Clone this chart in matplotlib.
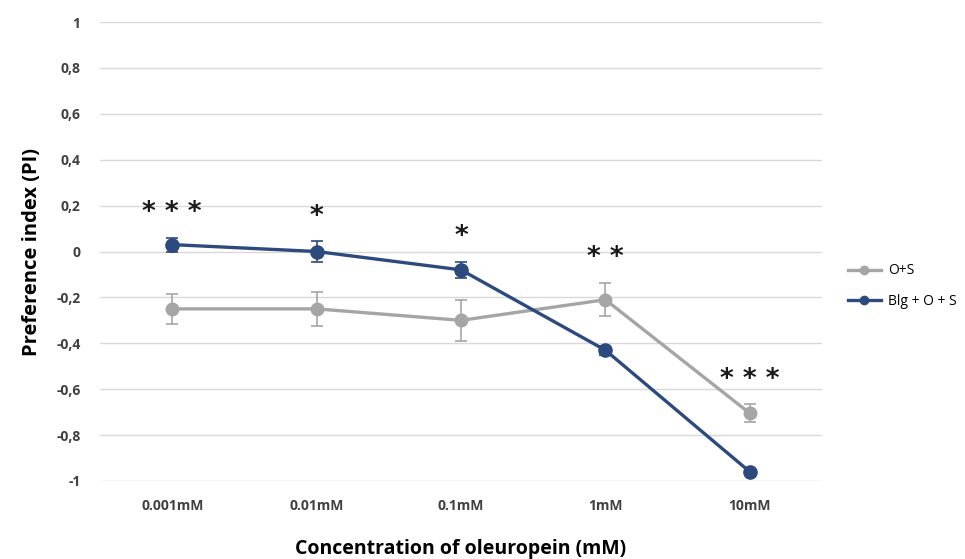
import numpy as np
import matplotlib
matplotlib.use("Agg")
import matplotlib.pyplot as plt
from matplotlib.lines import Line2D

plt.rcParams["font.family"] = ["Open Sans", "DejaVu Sans"]

concentrations = ["0.001mM", "0.01mM", "0.1mM", "1mM", "10mM"]
os_mean = [-0.25, -0.25, -0.30, -0.21, -0.705]
os_err = [0.066, 0.075, 0.088, 0.073, 0.04]
blg_mean = [0.03, 0.0, -0.08, -0.43, -0.96]
blg_err = [0.03, 0.045, 0.035, 0.02, 0.01]
stars = ["***", "*", "*", "**", "***"]

yticks = [-1, -0.8, -0.6, -0.4, -0.2, 0, 0.2, 0.4, 0.6, 0.8, 1]
ytick_labels = ["-1", "-0,8", "-0,6", "-0,4", "-0,2", "0", "0,2", "0,4", "0,6", "0,8", "1"]

grey = "#a5a5a5"
navy = "#2c4a7e"

fig = plt.figure(figsize=(9.65, 5.59), dpi=100)
ax = fig.add_axes([100 / 965, 1 - 481 / 559, 722 / 965, 459 / 559])

x = np.arange(len(concentrations))

ax.errorbar(x, os_mean, yerr=os_err, color=grey, lw=2.4, marker="o", ms=9,
            ecolor=grey, elinewidth=1.2, capsize=4, capthick=1.2, zorder=3)
ax.errorbar(x, blg_mean, yerr=blg_err, color=navy, lw=2.4, marker="o", ms=9.5,
            ecolor=navy, elinewidth=1.2, capsize=4, capthick=1.2, zorder=4)

# significance stars above the highest error bar
for i, s in enumerate(stars):
    top = max(os_mean[i] + os_err[i], blg_mean[i] + blg_err[i])
    ax.text(x[i], top + 0.05, " ".join(s), ha="center", va="bottom", fontsize=19,
            fontweight="bold", color="#1a1a1a", family="DejaVu Sans")

ax.set_xlim(-0.5, len(concentrations) - 0.5)
ax.set_ylim(-1, 1)
ax.set_yticks(yticks)
ax.set_yticklabels(ytick_labels, fontsize=10, fontweight="bold", color="#404040")
ax.set_xticks(x)
ax.set_xticklabels(concentrations, fontsize=10, fontweight="bold", color="#404040")
ax.tick_params(axis="both", length=0)
ax.tick_params(axis="y", pad=14)
ax.tick_params(axis="x", pad=13)
ax.grid(axis="y", color="#d9d9d9", lw=1)
ax.set_axisbelow(True)
for sp in ax.spines.values():
    sp.set_visible(False)

ax.set_ylabel("Preference index (PI)", fontsize=14.5, fontweight="bold", labelpad=10)
ax.set_xlabel("Concentration of oleuropein (mM)", fontsize=14, fontweight="bold", labelpad=19)

handles = [
    Line2D([], [], color=grey, lw=2.4, marker="o", ms=6),
    Line2D([], [], color=navy, lw=2.4, marker="o", ms=6),
]
fig.legend(handles, ["O+S", "Blg + O + S"], loc="center left",
           bbox_to_anchor=(835 / 965, 1 - 286 / 559), frameon=False,
           fontsize=10, handlelength=2.4, labelspacing=1.1, handletextpad=0.5)

fig.savefig("out.png", dpi=100)
